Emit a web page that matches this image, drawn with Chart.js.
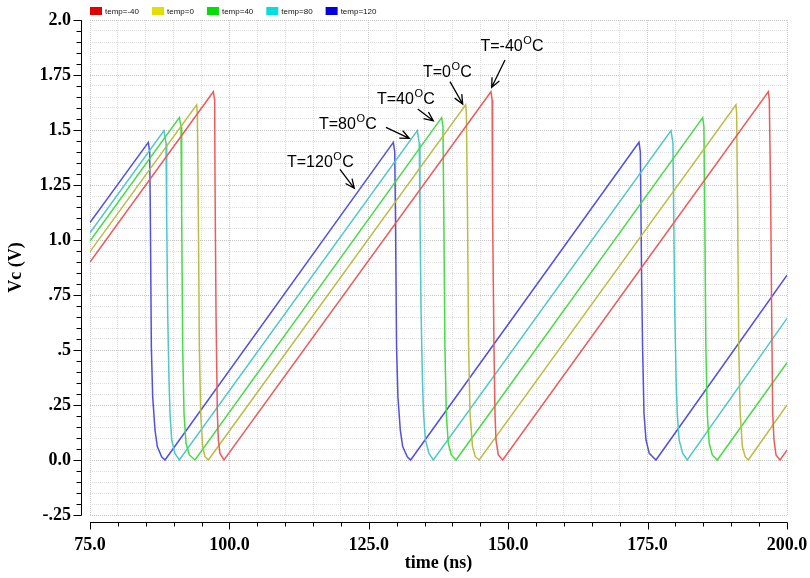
<!DOCTYPE html>
<html>
<head>
<meta charset="utf-8">
<script src="https://cdn.jsdelivr.net/npm/chart.js@4.4.1/dist/chart.umd.min.js"></script>
<style>
  html, body { margin: 0; padding: 0; background: #fff; }
</style>
</head>
<body>
<canvas id="vcChart" width="810" height="578"></canvas>
<script>
// series names (legend) and their colours
const seriesNames = ['temp=-40', 'temp=0', 'temp=40', 'temp=80', 'temp=120'];
const legendColors = ['#e00000', '#e0e000', '#00e000', '#00e0e0', '#0000e0'];
const lineColors = ['#f05a5a', '#bcbc45', '#45dc45', '#4cc8c8', '#5050e6'];

// time (ns) and Vc (V)
const redTime = [75, 97.12, 97.36, 97.42, 97.60, 97.84, 98.02, 98.31, 99.03,
  146.91, 147.12, 147.20, 147.45, 147.63, 147.81, 148.23, 149.01,
  196.65, 196.83, 197.07, 197.25, 197.43, 197.67, 198.03, 198.75, 200];
const redVc = [0.90, 1.674, 1.636, 1.273, 0.667, 0.212, 0.091, 0.030, 0.0,
  1.674, 1.636, 1.121, 0.515, 0.212, 0.091, 0.023, 0.0,
  1.674, 1.636, 1.197, 0.667, 0.212, 0.091, 0.023, 0.0, 0.045];

const yellowTime = [75, 94.13, 94.25, 94.43, 94.61, 94.85, 95.20, 95.62, 96.22,
  142.37, 142.50, 142.70, 142.90, 143.15, 143.60, 144.10, 144.80,
  190.85, 190.97, 191.15, 191.35, 191.60, 192.00, 192.50, 193.06, 200];
const yellowVc = [0.947, 1.614, 1.576, 1.121, 0.515, 0.212, 0.061, 0.015, 0.0,
  1.614, 1.576, 1.121, 0.515, 0.212, 0.061, 0.015, 0.0,
  1.614, 1.576, 1.121, 0.515, 0.212, 0.061, 0.015, 0.0, 0.25];

const greenTime = [75, 91.02, 91.32, 91.44, 91.62, 91.86, 92.22, 92.82, 93.83,
  138.07, 138.30, 138.45, 138.65, 138.90, 139.25, 139.80, 140.64,
  184.88, 185.10, 185.25, 185.45, 185.70, 186.05, 186.60, 187.50, 200];
const greenVc = [0.995, 1.556, 1.515, 1.121, 0.515, 0.212, 0.076, 0.023, 0.0,
  1.556, 1.515, 1.121, 0.515, 0.212, 0.076, 0.023, 0.0,
  1.556, 1.515, 1.121, 0.515, 0.212, 0.076, 0.023, 0.0, 0.442];

const cyanTime = [75, 88.27, 88.63, 88.75, 88.93, 89.17, 89.35, 89.65, 90.24, 91.02,
  133.70, 134.05, 134.18, 134.38, 134.62, 134.82, 135.15, 135.80, 136.57,
  179.20, 179.55, 179.68, 179.88, 180.12, 180.32, 180.65, 181.30, 182.12, 200];
const cyanVc = [1.033, 1.497, 1.44, 1.121, 0.667, 0.364, 0.212, 0.091, 0.03, 0.0,
  1.497, 1.44, 1.121, 0.667, 0.364, 0.212, 0.091, 0.03, 0.0,
  1.497, 1.44, 1.121, 0.667, 0.364, 0.212, 0.091, 0.03, 0.0, 0.644];

const blueTime = [75, 85.46, 85.70, 85.82, 86.00, 86.24, 86.66, 87.07, 87.85, 88.45,
  129.40, 129.65, 129.78, 129.98, 130.22, 130.65, 131.08, 131.90, 132.50,
  173.46, 173.70, 173.93, 174.10, 174.35, 174.71, 175.30, 176.50, 200];
const blueVc = [1.079, 1.444, 1.401, 1.121, 0.515, 0.288, 0.136, 0.061, 0.015, 0.0,
  1.444, 1.401, 1.121, 0.515, 0.288, 0.136, 0.061, 0.015, 0.0,
  1.444, 1.401, 0.818, 0.515, 0.212, 0.091, 0.03, 0.0, 0.84];

// tick labels
const xLabelValues = [75, 100, 125, 150, 175, 200];
const xLabelTexts = ['75.0', '100.0', '125.0', '150.0', '175.0', '200.0'];
const yLabelValues = [2.0, 1.75, 1.5, 1.25, 1.0, 0.75, 0.5, 0.25, 0.0, -0.25];
const yLabelTexts = ['2.0', '1.75', '1.5', '1.25', '1.0', '.75', '.5', '.25', '0.0', '-.25'];

// temperature notes: text start, arrow tail, arrow tip (time, Vc)
const noteTemps = ['-40', '0', '40', '80', '120'];
const noteTextAt = [[145.03, 1.859], [134.72, 1.742], [126.47, 1.618], [116.07, 1.505], [110.33, 1.333]];
const noteTail = [[149.43, 1.818], [139.56, 1.720], [133.77, 1.595], [128.08, 1.512], [119.83, 1.321]];
const noteTip = [[147.04, 1.694], [141.84, 1.618], [136.57, 1.542], [132.26, 1.462], [122.40, 1.235]];

const seriesTimes = [redTime, yellowTime, greenTime, cyanTime, blueTime];
const seriesVcs = [redVc, yellowVc, greenVc, cyanVc, blueVc];

const serif = '"Liberation Serif", "Times New Roman", serif';
const sans = '"Liberation Sans", Arial, sans-serif';

function near(a, b) { return Math.abs(a - b) < 1e-6; }
function labelFor(v, values, texts) {
  const i = values.findIndex(x => near(x, v));
  return i < 0 ? '' : texts[i];
}
const isMajorX = v => xLabelValues.some(x => near(x, v));
const isMajorY = v => yLabelValues.some(x => near(x, v));

// axis lines drawn a little away from the plot, as in the picture
const offsetAxes = {
  id: 'offsetAxes',
  afterDraw(chart) {
    const { ctx, chartArea: a, scales: { x, y } } = chart;
    ctx.save();
    ctx.strokeStyle = '#000';
    ctx.lineWidth = 1;
    ctx.beginPath();
    const ax = a.left - 8.5;
    ctx.moveTo(ax, y.getPixelForValue(2.0));
    ctx.lineTo(ax, y.getPixelForValue(-0.25) + 0.5);
    y.ticks.forEach(t => {
      const py = Math.round(y.getPixelForValue(t.value)) + 0.5;
      const len = isMajorY(t.value) ? 8 : 5;
      ctx.moveTo(ax - len, py);
      ctx.lineTo(ax, py);
    });
    const ay = a.bottom + 7.5;
    ctx.moveTo(x.getPixelForValue(75), ay);
    ctx.lineTo(x.getPixelForValue(200) + 0.5, ay);
    x.ticks.forEach(t => {
      const px = Math.round(x.getPixelForValue(t.value)) + 0.5;
      const len = isMajorX(t.value) ? 7 : 4;
      ctx.moveTo(px, ay);
      ctx.lineTo(px, ay + len);
    });
    ctx.stroke();
    ctx.restore();
  }
};

const tempLegend = {
  id: 'tempLegend',
  afterDraw(chart) {
    const ctx = chart.ctx;
    let x = chart.chartArea.left;
    ctx.save();
    ctx.font = '8px ' + sans;
    ctx.textBaseline = 'middle';
    chart.data.datasets.forEach((ds, i) => {
      ctx.fillStyle = legendColors[i];
      ctx.fillRect(x, 7, 12, 8);
      ctx.fillStyle = '#111';
      ctx.fillText(ds.label, x + 15, 11.5);
      x += 15 + ctx.measureText(ds.label).width + 13;
    });
    ctx.restore();
  }
};

function arrow(ctx, x1, y1, x2, y2) {
  const ang = Math.atan2(y2 - y1, x2 - x1);
  const h = 10, s = 0.42;
  ctx.beginPath();
  ctx.moveTo(x1, y1);
  ctx.lineTo(x2, y2);
  ctx.moveTo(x2 - h * Math.cos(ang - s), y2 - h * Math.sin(ang - s));
  ctx.lineTo(x2, y2);
  ctx.lineTo(x2 - h * Math.cos(ang + s), y2 - h * Math.sin(ang + s));
  ctx.stroke();
}

const tempNotes = {
  id: 'tempNotes',
  afterDatasetsDraw(chart) {
    const { ctx, scales: { x, y } } = chart;
    ctx.save();
    ctx.fillStyle = '#000';
    ctx.strokeStyle = '#000';
    ctx.lineWidth = 1.3;
    ctx.textBaseline = 'alphabetic';
    noteTemps.forEach((temp, i) => {
      let px = x.getPixelForValue(noteTextAt[i][0]);
      const py = y.getPixelForValue(noteTextAt[i][1]);
      const main = 'T=' + temp;
      ctx.font = '16px ' + sans;
      ctx.fillText(main, px, py);
      px += ctx.measureText(main).width + 0.5;
      ctx.font = '11px ' + sans;
      ctx.fillText('O', px, py - 7);
      px += ctx.measureText('O').width + 0.3;
      ctx.font = '16px ' + sans;
      ctx.fillText('C', px, py);
      arrow(ctx,
        x.getPixelForValue(noteTail[i][0]), y.getPixelForValue(noteTail[i][1]),
        x.getPixelForValue(noteTip[i][0]), y.getPixelForValue(noteTip[i][1]));
    });
    ctx.restore();
  }
};

const datasets = seriesNames.map((name, i) => ({
  label: name,
  data: seriesTimes[i].map((t, j) => ({ x: t, y: seriesVcs[i][j] })),
  borderColor: lineColors[i],
  backgroundColor: legendColors[i],
  borderWidth: 1.5,
  pointRadius: 0,
  fill: false,
  tension: 0
}));

const tickFont = { family: serif, size: 18, weight: 'bold' };

new Chart(document.getElementById('vcChart').getContext('2d'), {
  type: 'line',
  data: { datasets: datasets },
  options: {
    responsive: false,
    animation: false,
    layout: { padding: { top: 20, right: 23, bottom: 0, left: 0 } },
    plugins: {
      legend: { display: false },
      tooltip: { enabled: false }
    },
    scales: {
      x: {
        type: 'linear',
        min: 75,
        max: 200,
        ticks: {
          stepSize: 5,
          autoSkip: false,
          maxRotation: 0,
          padding: 20,
          color: '#000',
          font: tickFont,
          callback: v => labelFor(v, xLabelValues, xLabelTexts)
        },
        grid: {
          drawTicks: false,
          lineWidth: 1,
          color: c => isMajorX(c.tick.value) ? '#cacaca' : '#dcdcdc'
        },
        border: { display: false, dash: [1, 1] },
        title: {
          display: true,
          text: 'time (ns)',
          color: '#000',
          font: tickFont,
          padding: { top: 0, bottom: 4 }
        },
        afterFit: s => { s.height = 63; s.paddingLeft = 0; s.paddingRight = 0; }
      },
      y: {
        min: -0.25,
        max: 2.0,
        ticks: {
          stepSize: 0.05,
          autoSkip: false,
          padding: 19,
          color: '#000',
          font: tickFont,
          callback: v => labelFor(v, yLabelValues, yLabelTexts)
        },
        grid: {
          drawTicks: false,
          lineWidth: 1,
          color: c => isMajorY(c.tick.value) ? '#c4c4c4' : '#dedede'
        },
        border: { display: false, dash: [1, 1] },
        title: {
          display: true,
          text: 'Vc (V)',
          color: '#000',
          font: tickFont,
          padding: { top: 6, bottom: 0 }
        },
        afterFit: s => { s.width = 90; s.paddingTop = 0; s.paddingBottom = 0; }
      }
    }
  },
  plugins: [offsetAxes, tempLegend, tempNotes]
});
</script>
</body>
</html>
